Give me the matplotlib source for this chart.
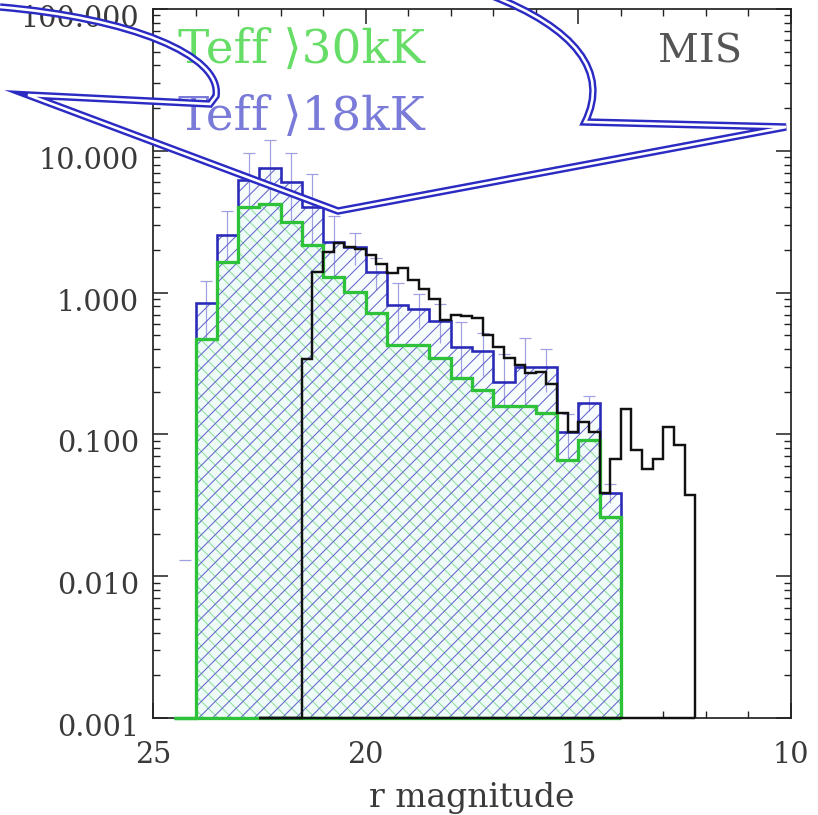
import numpy as np
import matplotlib.pyplot as plt
import matplotlib.transforms as mtransforms
from matplotlib.path import Path
from matplotlib.patches import PathPatch
from matplotlib.ticker import LogLocator, FormatStrFormatter, MultipleLocator, NullFormatter

plt.rcParams['font.family'] = ['DejaVu Serif', 'DejaVu Sans']
plt.rcParams['hatch.linewidth'] = 0.6

YMIN, YMAX = 1e-3, 100.0

# hot star samples, 0.5 mag bins from r = 24.5 down to r = 14.0
hot_edges = np.linspace(24.5, 14.0, 22)
teff18 = [0, 0.845, 2.55, 6.2, 7.6, 6.05, 4.0, 2.29, 2.1, 1.40, 0.82,
          0.77, 0.635, 0.415, 0.39, 0.235, 0.30, 0.30, 0.104, 0.167, 0.0388]
teff18_err = [0.013, 0.365, 1.21, 3.4, 4.3, 3.65, 2.9, 1.18, 0.54, 0.35, 0.35,
              0.21, 0.195, 0.205, 0.13, 0.135, 0.177, 0.10, 0.036, 0.02, 0.006]
teff30 = [0, 0.47, 1.63, 4.0, 4.2, 3.16, 2.17, 1.28, 1.01, 0.714, 0.427,
          0.427, 0.344, 0.249, 0.206, 0.158, 0.158, 0.141, 0.066, 0.091, 0.0263]

# MIS counts, 0.25 mag bins from r = 22.5 down to r = 12.25
mis_edges = np.linspace(22.5, 12.25, 42)
mis = [0, 0, 0, 0, 0.339, 1.39, 1.93, 2.24, 2.10, 2.02, 1.84, 1.59, 1.37, 1.49,
       1.22, 1.06, 0.90, 0.64, 0.69, 0.68, 0.66, 0.50, 0.41, 0.345, 0.31, 0.27,
       0.275, 0.225, 0.142, 0.104, 0.123, 0.104, 0.0385, 0.0667, 0.150, 0.0776,
       0.0567, 0.0667, 0.113, 0.084, 0.0374]

xticks = [25, 20, 15, 10]


def floored(v):
    v = np.asarray(v, dtype=float)
    return np.where(v > 0, v, YMIN)


fig = plt.figure(figsize=(818 / 125, 815 / 125), dpi=125)
ax = fig.add_axes([0.187, 0.119, 0.780, 0.870])
ax.set_yscale('log')

e_hot = hot_edges[::-1]
b18 = floored(teff18)[::-1]
b30 = floored(teff30)[::-1]
e_mis = mis_edges[::-1]
bmis = floored(mis)[::-1]

# error bars on the Teff > 18kK histogram (only the top cap shows)
centers = 0.5 * (hot_edges[:-1] + hot_edges[1:])
v18 = np.asarray(teff18, dtype=float)
err = np.asarray(teff18_err, dtype=float)
up = v18 + err
lo = np.clip(v18 - err, YMIN, None)
errc = '#9f9fe2'
has = v18 > 0
ax.vlines(centers[has], lo[has], up[has], color=errc, lw=0.7, zorder=1)
ax.plot(centers, up, ls='none', marker='_', ms=6.5, mew=0.7, color=errc, zorder=1)

# fills and hatching
ax.stairs(b18, e_hot, baseline=YMIN, fill=True, facecolor='#f7fcfd',
          edgecolor='none', lw=0, zorder=0.5)
ax.stairs(b30, e_hot, baseline=YMIN, fill=True, facecolor='#effbf8',
          edgecolor='none', lw=0, zorder=2)
ax.stairs(b30, e_hot, baseline=YMIN, fill=True, facecolor='none',
          edgecolor='#8fe0a0', hatch='\\\\\\', lw=0, zorder=3)
ax.stairs(b18, e_hot, baseline=YMIN, fill=True, facecolor='none',
          edgecolor='#6464cf', hatch='///', lw=0, zorder=3.5)

# outlines, with the bottom edge running along the floor of the plot
ax.stairs(b18, e_hot, baseline=YMIN, color='#2a2ab8', lw=1.5, zorder=4)
ax.stairs(b30, e_hot, baseline=YMIN, color='#2ec13a', lw=1.9, zorder=5,
          clip_on=False)
ax.hlines(YMIN, hot_edges[-1], hot_edges[0], color='#2ec13a', lw=1.9,
          zorder=5, clip_on=False)
ax.stairs(bmis, e_mis, baseline=YMIN, color='#111111', lw=1.4, zorder=6,
          clip_on=False)
ax.hlines(YMIN, mis_edges[-1], mis_edges[0], color='#111111', lw=1.4,
          zorder=6, clip_on=False)

ax.set_xlim(25, 10)
ax.set_ylim(YMIN, YMAX)

ax.xaxis.set_major_locator(MultipleLocator(5))
ax.xaxis.set_minor_locator(MultipleLocator(1))
ax.set_xticks(xticks)
ax.set_xticklabels([str(t) for t in xticks])
ax.yaxis.set_major_locator(LogLocator(base=10, numticks=10))
ax.yaxis.set_minor_locator(LogLocator(base=10, subs=np.arange(2, 10), numticks=20))
ax.yaxis.set_major_formatter(FormatStrFormatter('%.3f'))
ax.yaxis.set_minor_formatter(NullFormatter())

ax.tick_params(which='both', direction='in', top=True, right=True,
               colors='#222222', labelcolor='#3a3a3a')
ax.tick_params(axis='y', labelsize=16.5, pad=8)
ax.tick_params(axis='x', labelsize=16.5, pad=13)
ax.tick_params(which='major', length=8.5, width=0.9)
ax.tick_params(which='minor', length=4, width=0.8)
for s in ax.spines.values():
    s.set_linewidth(1.0)
    s.set_color('#222222')

# y labels sit a little below their ticks
shift = mtransforms.ScaledTranslation(0, -4 / 72, fig.dpi_scale_trans)
for lab in ax.get_yticklabels():
    lab.set_transform(lab.get_transform() + shift)

ax.set_xlabel('r magnitude', fontsize=19, color='#3a3a3a', labelpad=8)

ax.text(0.039, 0.924, 'Teff \u27e930kK', transform=ax.transAxes, fontsize=27,
        color='#66dd66', ha='left', va='baseline', zorder=8)
ax.text(0.039, 0.829, 'Teff \u27e918kK', transform=ax.transAxes, fontsize=27,
        color='#7a7ad8', ha='left', va='baseline', zorder=8)
ax.text(0.923, 0.925, 'MIS', transform=ax.transAxes, fontsize=23,
        color='#555555', ha='right', va='baseline', zorder=8)

# double-lined callout outline drawn across the top of the figure
W, H = 818.0, 815.0
pts = [(0, 7), (130, 18), (222, 55), (216, 96), (210, 104), (28, 95),
       (338, 211), (786, 127), (585, 122), (610, 72), (575, 28), (490, -5)]
codes = [Path.MOVETO, Path.CURVE4, Path.CURVE4, Path.CURVE4, Path.LINETO,
         Path.LINETO, Path.LINETO, Path.LINETO, Path.LINETO,
         Path.CURVE4, Path.CURVE4, Path.CURVE4]
verts = [(x / W, 1 - y / H) for x, y in pts]
callout = Path(verts, codes)
for c, lw in (('#2b2bc4', 4.3), ('white', 1.5)):
    fig.add_artist(PathPatch(callout, facecolor='none', edgecolor=c, lw=lw,
                             joinstyle='miter', capstyle='butt',
                             transform=fig.transFigure, zorder=20))

fig.savefig('out.png', dpi=125)
